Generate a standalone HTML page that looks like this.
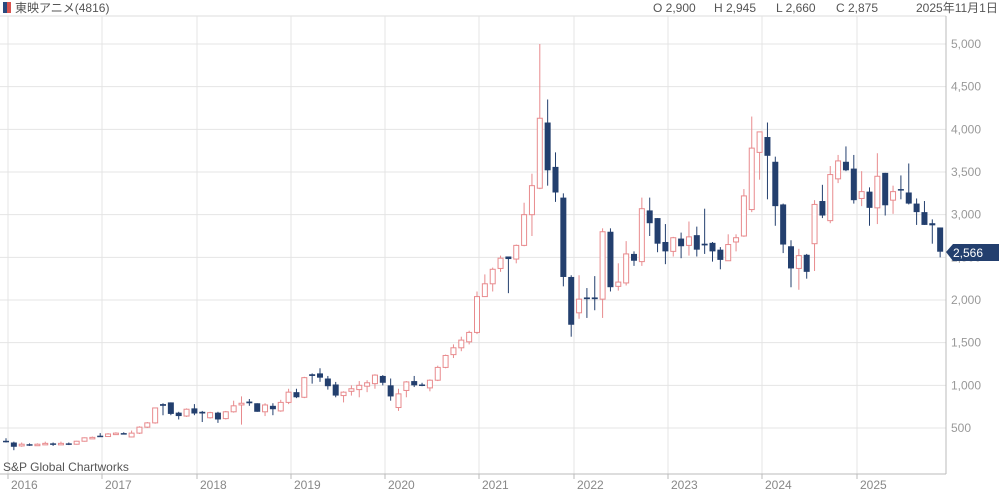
<!DOCTYPE html>
<html><head><meta charset="utf-8"><style>
body{margin:0;background:#fff;width:999px;height:495px;overflow:hidden;font-family:"Liberation Sans","Noto Sans CJK JP",sans-serif;}
svg text{font-family:"Liberation Sans","Noto Sans CJK JP",sans-serif;}
</style></head><body>
<svg id="c" width="999" height="495" xmlns="http://www.w3.org/2000/svg">
<rect x="0" y="0" width="999" height="495" fill="#fff"/>
<rect x="3" y="2" width="4" height="11" fill="#2a4a7f"/><rect x="7" y="2" width="4" height="11" fill="#d9534f"/>
<text x="15" y="12" font-size="12" fill="#555">東映アニメ(4816)</text>
<text x="653" y="12" font-size="12" fill="#555">O 2,900</text>
<text x="714" y="12" font-size="12" fill="#555">H 2,945</text>
<text x="776" y="12" font-size="12" fill="#555">L 2,660</text>
<text x="836" y="12" font-size="12" fill="#555">C 2,875</text>
<text x="916" y="12" font-size="12" fill="#555">2025年11月1日</text>
<line x1="0" y1="16" x2="946" y2="16" stroke="#ddd"/>
<g id="grid"></g>
<line x1="946" y1="16" x2="946" y2="474" stroke="#bbb"/>
<line x1="0" y1="474" x2="946" y2="474" stroke="#bbb"/>
<text x="3" y="471" font-size="12" fill="#555">S&amp;P Global Chartworks</text>
<g id="candles"></g>
<path d="M946,252 L953,244 L999,244 L999,261 L953,261 Z" fill="#233f6e"/>
<text x="953" y="257" font-size="12" fill="#fff">2,566</text>
</svg>
<script>
var Y=function(v){return 428-(v-500)*0.08533;};
var g=document.getElementById('grid'),s='';
var years=[2016,2017,2018,2019,2020,2021,2022,2023,2024,2025];
var xs=[8,102,197,291,385,479,574,668,762,857];
for(var i=0;i<10;i++){s+='<line x1="'+xs[i]+'" y1="16" x2="'+xs[i]+'" y2="474" stroke="#e4e4e4"/>';
s+='<line x1="'+xs[i]+'" y1="474" x2="'+xs[i]+'" y2="479" stroke="#bbb"/>';
s+='<text x="'+(xs[i]+3)+'" y="489" font-size="12" fill="#888">'+years[i]+'</text>';}
for(var v=500;v<=5000;v+=500){var y=Y(v);s+='<line x1="0" y1="'+y+'" x2="946" y2="'+y+'" stroke="#e4e4e4"/>';
if(v!=2500)s+='<text x="951" y="'+(y+4)+'" font-size="12" fill="#999">'+v.toLocaleString('en-US')+'</text>';
else s+='<text x="951" y="'+(y+4)+'" font-size="12" fill="#999">2,500</text>';}
g.innerHTML=s;
var d=[[350,380,330,340],[330,340,240,280],[290,330,280,310],[310,320,290,300],[295,320,290,310],[305,340,300,320],[320,330,290,310],[310,340,300,320],[320,330,300,310],[310,350,305,345],[345,390,340,385],[385,400,375,390],
[410,440,400,395],[400,440,395,430],[430,450,420,440],[440,450,430,435],[395,470,390,440],[440,520,430,510],[510,570,500,560],[560,740,550,735],[780,790,650,760],[800,800,650,665],[680,690,600,640],[640,730,630,720],
[730,780,650,670],[690,700,570,670],[620,690,610,680],[680,690,560,600],[610,700,600,690],[690,820,680,760],[770,870,540,790],[810,840,760,790],[790,790,690,690],[690,790,640,770],[760,790,650,720],[700,830,690,800],
[800,960,780,920],[920,960,850,860],[860,1100,850,1090],[1130,1140,1020,1110],[1140,1200,1040,1090],[1080,1110,950,990],[1010,1040,860,880],[880,930,800,920],[930,1000,880,960],[950,1050,860,1000],[990,1060,920,1030],[1020,1130,960,1120],
[1110,1120,1000,1030],[1000,1080,820,870],[740,960,700,900],[940,1050,860,1040],[1050,1110,980,1000],[1010,1030,990,1000],[970,1070,930,1060],[1060,1230,1050,1210],[1210,1360,1200,1350],[1360,1480,1320,1440],[1440,1570,1400,1530],[1510,1640,1480,1620],
[1620,2100,1600,2040],[2040,2300,2040,2190],[2190,2380,2100,2360],[2370,2520,2330,2490],[2510,2510,2080,2480],[2480,2650,2430,2640],[2640,3140,2630,3000],[3000,3480,2750,3340],[3310,5000,3300,4130],[4080,4350,3340,3520],[3560,3730,3150,3260],[3200,3250,2160,2270],
[2270,2290,1570,1710],[1850,2290,1780,2010],[2030,2140,1790,2010],[2030,2280,1880,2010],[2010,2840,1790,2800],[2800,2840,2100,2150],[2160,2430,2110,2210],[2200,2690,2170,2540],[2540,2570,2400,2460],[2450,3200,2400,3070],[3050,3200,2750,2900],[2960,2960,2560,2660],
[2680,2890,2420,2570],[2570,2740,2510,2730],[2720,2790,2490,2630],[2640,2920,2520,2740],[2760,2860,2510,2590],[2660,3070,2540,2640],[2670,2680,2450,2570],[2590,2620,2360,2470],[2460,2770,2460,2650],[2680,2770,2570,2730],[2750,3300,2740,3220],[3060,4150,3030,3780],
[3730,3970,3410,3970],[3910,4080,3180,3690],[3620,3680,2870,3100],[3120,3130,2550,2650],[2630,2700,2150,2370],[2370,2600,2120,2520],[2530,2540,2250,2330],[2660,3170,2340,3120],[3160,3350,2960,2990],[2930,3570,2900,3470],[3420,3700,3370,3630],[3620,3800,3510,3520],
[3540,3700,3130,3170],[3190,3510,3100,3270],[3270,3320,2870,3080],[3080,3720,2890,3450],[3490,3490,2990,3110],[3170,3340,3010,3270],[3300,3460,3180,3290],[3260,3600,3120,3130],[3130,3190,2880,3030],[3030,3160,2880,2880],[2900,2945,2660,2875],[2850,2850,2500,2566]];
var c='';
for(var i=0;i<d.length;i++){var o=d[i][0],h=d[i][1],l=d[i][2],cl=d[i][3];var x=6+i*7.85;
var up=cl>o;var col=up?'#e88a8d':'#233f6e';
var t=Y(Math.max(o,cl)),b=Y(Math.min(o,cl));if(b-t<1.5){b=t+1.5;}
c+='<line x1="'+x+'" y1="'+Y(h)+'" x2="'+x+'" y2="'+Y(l)+'" stroke="'+col+'" stroke-width="1"/>';
if(up)c+='<rect x="'+(x-2.5)+'" y="'+t+'" width="5" height="'+(b-t)+'" fill="#fff" stroke="'+col+'" stroke-width="1"/>';
else c+='<rect x="'+(x-3)+'" y="'+t+'" width="6" height="'+(b-t)+'" fill="'+col+'"/>';}
document.getElementById('candles').innerHTML=c;
</script>
</body></html>
